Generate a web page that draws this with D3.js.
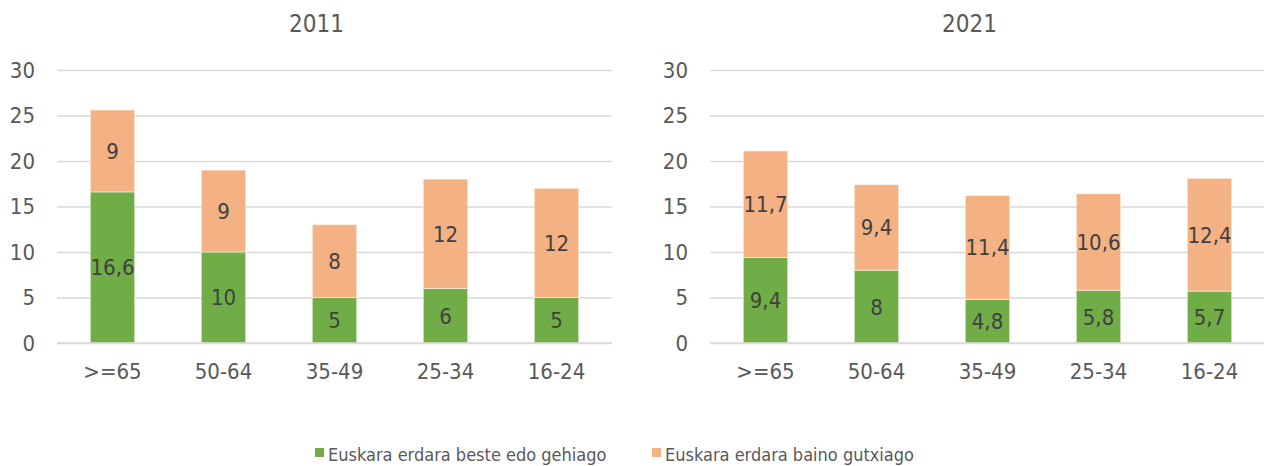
<!DOCTYPE html>
<html>
<head>
<meta charset="utf-8">
<script src="https://cdn.jsdelivr.net/npm/d3@7"></script>
<style>
  body { margin: 0; background: #fff; }
  text { font-family: "DejaVu Sans Condensed", "DejaVu Sans", sans-serif; }
</style>
</head>
<body>
<div class="chart"></div>
<script>
// data
const ageGroups = [">=65", "50-64", "35-49", "25-34", "16-24"];
const years = ["2011", "2021"];
const moreOrEqual2011 = [16.6, 10, 5, 6, 5];
const less2011 = [9, 9, 8, 12, 12];
const moreOrEqual2021 = [9.4, 8, 4.8, 5.8, 5.7];
const less2021 = [11.7, 9.4, 11.4, 10.6, 12.4];
const yTicks = [0, 5, 10, 15, 20, 25, 30];
const seriesNames = ["Euskara erdara beste edo gehiago", "Euskara erdara baino gutxiago"];

const colors = ["#70AD47", "#F4B183"];
const fontStack = "'DejaVu Sans Condensed', 'DejaVu Sans', sans-serif";

const width = 1264, height = 466;

const svg = d3.select(".chart")
    .append("svg")
    .attr("width", width)
    .attr("height", height);

const yScale = d3.scaleLinear()
    .domain([0, 30])
    .range([343, 70]);

const fmt = v => String(+v.toFixed(1)).replace(".", ",");

function drawPanel(title, green, orange, left, right) {
    const rows = ageGroups.map((a, i) => ({age: a, s0: green[i], s1: orange[i]}));
    const stacked = d3.stack().keys(["s0", "s1"])(rows);

    const xScale = d3.scaleBand()
        .domain(ageGroups)
        .range([left, right])
        .paddingInner(0.6)
        .paddingOuter(0.3);

    const g = svg.append("g");

    // gridlines + y labels
    const yAxis = d3.axisLeft(yScale)
        .tickValues(yTicks)
        .tickSize(-(right - left))
        .tickPadding(22);

    g.append("g")
        .attr("transform", `translate(${left}, 0)`)
        .call(yAxis)
        .call(a => a.select(".domain").remove())
        .call(a => a.selectAll(".tick line").attr("stroke", "#D9D9D9").attr("stroke-width", 1.3))
        .call(a => a.selectAll(".tick text")
            .attr("fill", "#595959")
            .attr("font-size", 22)
            .style("font-family", fontStack));

    // bars
    g.selectAll("g.series")
        .data(stacked)
        .join("g")
        .attr("class", "series")
        .attr("fill", (d, i) => colors[i])
        .selectAll("rect")
        .data(d => d)
        .join("rect")
        .attr("x", d => xScale(d.data.age))
        .attr("width", xScale.bandwidth())
        .attr("y", d => yScale(d[1]))
        .attr("height", d => yScale(d[0]) - yScale(d[1]))
        .attr("stroke", "#fff")
        .attr("stroke-opacity", 0.6)
        .attr("stroke-width", 0.8);

    // data labels
    stacked.forEach(s => {
        g.append("g")
            .selectAll("text")
            .data(s)
            .join("text")
            .attr("x", d => xScale(d.data.age) + xScale.bandwidth() / 2)
            .attr("y", d => yScale((d[0] + d[1]) / 2))
            .attr("dy", "0.36em")
            .attr("text-anchor", "middle")
            .attr("font-size", 22)
            .attr("fill", "#404040")
            .text(d => fmt(d[1] - d[0]));
    });

    // x axis labels
    const xAxis = d3.axisBottom(xScale).tickSize(0).tickPadding(20);
    g.append("g")
        .attr("transform", `translate(0, 343)`)
        .call(xAxis)
        .call(a => a.select(".domain").remove())
        .call(a => a.selectAll(".tick text")
            .attr("fill", "#595959")
            .attr("font-size", 22)
            .style("font-family", fontStack));

    // baseline
    g.append("line")
        .attr("x1", left).attr("x2", right)
        .attr("y1", yScale(0)).attr("y2", yScale(0))
        .attr("stroke", "#D9D9D9")
        .attr("stroke-width", 1.3);

    // title
    g.append("text")
        .attr("x", (left + right) / 2 - 18)
        .attr("y", 32)
        .attr("text-anchor", "middle")
        .attr("font-size", 24)
        .attr("fill", "#595959")
        .text(title);
}

drawPanel(years[0], moreOrEqual2011, less2011, 57, 612);
drawPanel(years[1], moreOrEqual2021, less2021, 710, 1265);

// legend
const legend = svg.append("g");
const legendX = [315, 652];
seriesNames.forEach((name, i) => {
    legend.append("rect")
        .attr("x", legendX[i])
        .attr("y", 448)
        .attr("width", 9)
        .attr("height", 9)
        .attr("fill", colors[i]);
    legend.append("text")
        .attr("x", legendX[i] + 13)
        .attr("y", 461)
        .attr("font-size", 18)
        .attr("fill", "#595959")
        .text(name);
});
</script>
</body>
</html>
